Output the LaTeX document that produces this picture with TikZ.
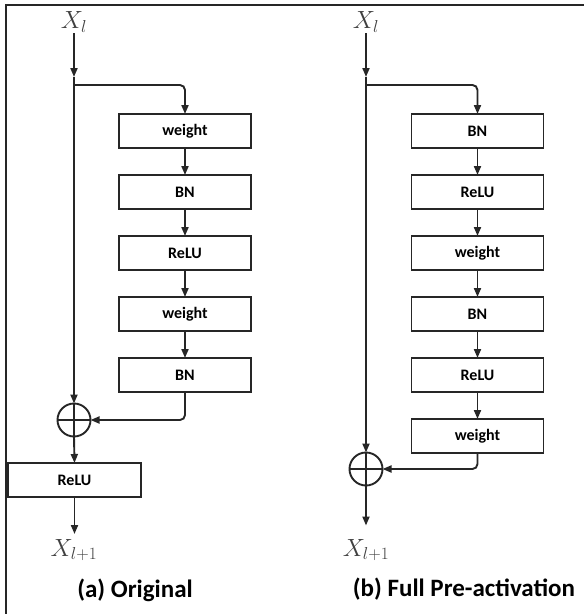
\documentclass[tikz,border=0pt]{standalone}
\usepackage{fontspec}
\setsansfont{Carlito}
\usepackage{tikz}
\usetikzlibrary{positioning, calc, arrows.meta}
\definecolor{inkgray}{HTML}{262626}

\begin{document}
\begin{tikzpicture}[
    x=1pt, y=-1pt,
    line width=1.9pt, draw=inkgray,
    layer/.style={minimum width=132pt, minimum height=34pt, draw, font=\sffamily\bfseries\fontsize{16}{18}\selectfont,
                  outer sep=0pt, inner sep=0pt},
    addop/.style={circle, draw, minimum size=33pt, inner sep=0pt, outer sep=0pt},
    flow/.style={-{Triangle[length=9pt,width=7pt]}},
    xlabel/.style={font=\fontsize{24}{28}\selectfont, text=black!75, inner sep=0pt},
    caption/.style={font=\sffamily\bfseries\fontsize{25}{30}\selectfont},
  ]

  \def\colA{74}    % main line, left
  \def\colB{366}   % main line, right
  \def\pitch{61}   % vertical pitch between boxes

  \useasboundingbox (0,0) rectangle (584,614);
  \draw[line width=2.2pt] (6,614) -- (6,5) -- (584,5);

  % --- (a) Original ---
  \node[xlabel] (xinA) at (\colA,22) {$X_l$};
  \coordinate (splitA) at (\colA,77);
  \coordinate (forkA) at (\colA,85);
  \node[layer] (a0) at (185,131) {weight};
  \node[layer] (a1) at (185,131+\pitch) {BN};
  \node[layer] (a2) at (185,131+2*\pitch) {ReLU};
  \node[layer] (a3) at (185,131+3*\pitch) {weight};
  \node[layer] (a4) at (185,131+4*\pitch) {BN};
  \node[addop] (addA) at (\colA,420) {};
  \draw (addA.north) -- (addA.south) (addA.west) -- (addA.east);
  \node[layer, minimum width=133pt] (reluA) at (74.5,480) {ReLU};
  \node[xlabel] (xoutA) at (\colA,550) {$X_{l+1}$};
  \node[caption] (capA) at (135,590) {(a) Original};

  \draw[flow] (xinA) -- (splitA);
  \draw[flow] (splitA) -- (addA.north);
  \draw[flow, rounded corners=5pt] (forkA) -| (a0.north);
  \draw[flow] (a0) -- (a1);
  \draw[flow] (a1) -- (a2);
  \draw[flow] (a2) -- (a3);
  \draw[flow] (a3) -- (a4);
  \draw[flow, rounded corners=5pt] (a4.south) |- (addA.east);
  \draw[flow] (addA.south) -- (reluA.north);
  \draw[flow] (reluA.south) -- ++(0,37);

  % --- (b) Full Pre-activation ---
  \node[xlabel] (xinB) at (\colB,22) {$X_l$};
  \coordinate (splitB) at (\colB,77);
  \coordinate (forkB) at (\colB,85);
  \node[layer] (b0) at (477.5,131) {BN};
  \node[layer] (b1) at (477.5,131+\pitch) {ReLU};
  \node[layer] (b2) at (477.5,131+2*\pitch) {weight};
  \node[layer] (b3) at (477.5,131+3*\pitch) {BN};
  \node[layer] (b4) at (477.5,131+4*\pitch) {ReLU};
  \node[layer] (b5) at (477.5,131+5*\pitch) {weight};
  \node[addop] (addB) at (\colB,469) {};
  \draw (addB.north) -- (addB.south) (addB.west) -- (addB.east);
  \node[xlabel] (xoutB) at (\colB,550) {$X_{l+1}$};
  \node[caption] (capB) at (464,589) {(b) Full Pre-activation};

  \draw[flow] (xinB) -- (splitB);
  \draw[flow] (splitB) -- (addB.north);
  \draw[flow, rounded corners=5pt] (forkB) -| (b0.north);
  \draw[flow] (b0) -- (b1);
  \draw[flow] (b1) -- (b2);
  \draw[flow] (b2) -- (b3);
  \draw[flow] (b3) -- (b4);
  \draw[flow] (b4) -- (b5);
  \draw[flow, rounded corners=5pt] (b5.south) |- (addB.east);
  \draw[flow] (addB.south) -- ++(0,40);

\end{tikzpicture}
\end{document}
